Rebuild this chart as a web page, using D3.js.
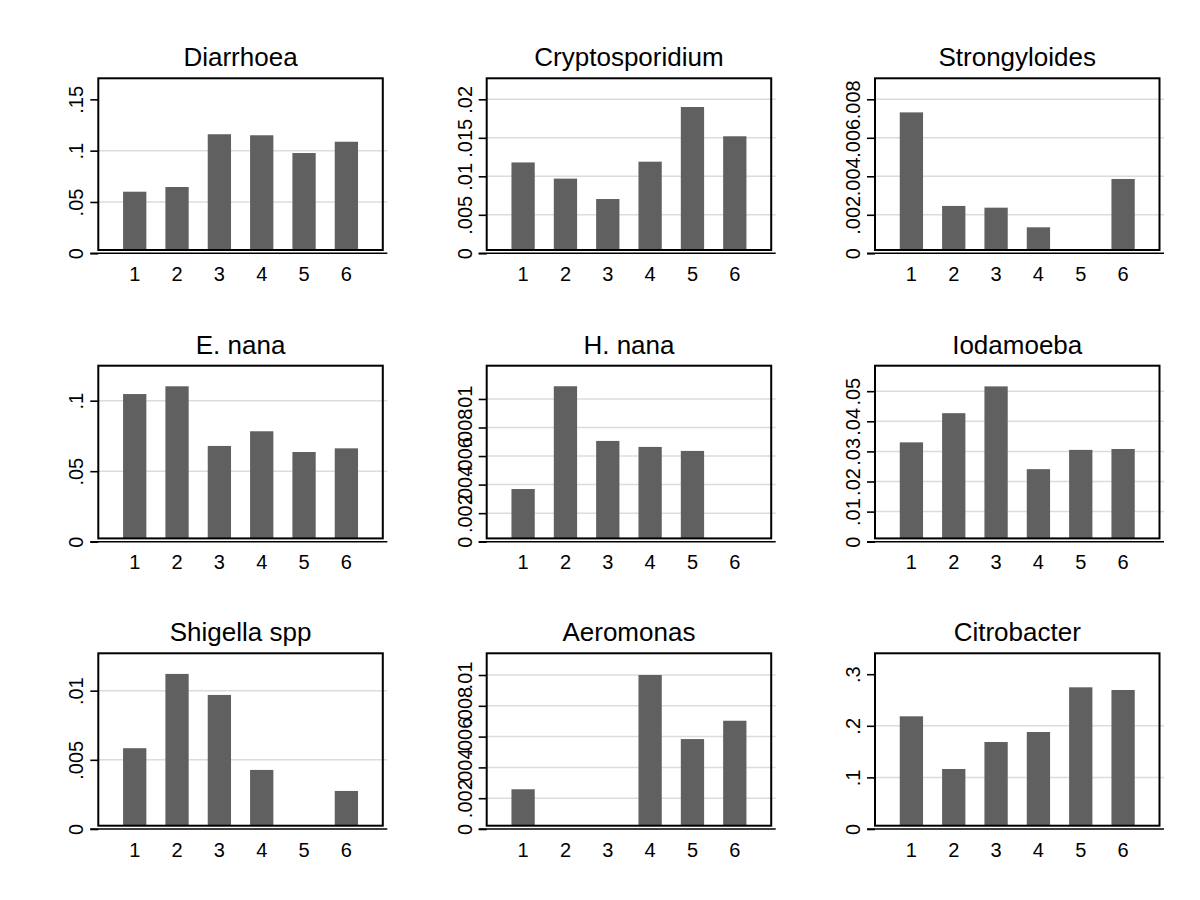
<!DOCTYPE html>
<html>
<head>
<meta charset="utf-8">
<script src="https://cdn.jsdelivr.net/npm/d3@7"></script>
<style>
  html, body { margin: 0; padding: 0; background: #fff; }
  svg { display: block; }
  text { font-family: "Liberation Sans", Arial, sans-serif; fill: #000; }
</style>
</head>
<body>
<svg id="chart" width="1200" height="900"></svg>
<script>
// ---- data ----
const categories = ["1", "2", "3", "4", "5", "6"];
const titles = ["Diarrhoea", "Cryptosporidium", "Strongyloides",
                "E. nana", "H. nana", "Iodamoeba",
                "Shigella spp", "Aeromonas", "Citrobacter"];

const diarrhoea       = [0.0600, 0.0646, 0.1160, 0.1150, 0.0977, 0.1087];
const cryptosporidium = [0.0118, 0.0097, 0.00705, 0.0119, 0.0190, 0.0152];
const strongyloides   = [0.00732, 0.00246, 0.00237, 0.00135, 0, 0.00386];
const eNana           = [0.1047, 0.1102, 0.0679, 0.0783, 0.0636, 0.0662];
const hNana           = [0.00369, 0.01089, 0.00706, 0.00664, 0.00636, 0];
const iodamoeba       = [0.0330, 0.0427, 0.0516, 0.0241, 0.0305, 0.0308];
const shigella        = [0.00584, 0.01121, 0.00969, 0.00427, 0, 0.00275];
const aeromonas       = [0.00258, 0, 0, 0.0100, 0.00584, 0.00703];
const citrobacter     = [0.2184, 0.1163, 0.1686, 0.1880, 0.2746, 0.2694];

const seriesList = [diarrhoea, cryptosporidium, strongyloides,
                    eNana, hNana, iodamoeba,
                    shigella, aeromonas, citrobacter];

// tick values and labels per panel
const tickValues = [
  [0, 0.05, 0.1, 0.15],
  [0, 0.005, 0.01, 0.015, 0.02],
  [0, 0.002, 0.004, 0.006, 0.008],
  [0, 0.05, 0.1],
  [0, 0.002, 0.004, 0.006, 0.008, 0.01],
  [0, 0.01, 0.02, 0.03, 0.04, 0.05],
  [0, 0.005, 0.01],
  [0, 0.002, 0.004, 0.006, 0.008, 0.01],
  [0, 0.1, 0.2, 0.3]
];
const tickLabels = [
  ["0", ".05", ".1", ".15"],
  ["0", ".005", ".01", ".015", ".02"],
  ["0", ".002", ".004", ".006", ".008"],
  ["0", ".05", ".1"],
  ["0", ".002", ".004", ".006", ".008", ".01"],
  ["0", ".01", ".02", ".03", ".04", ".05"],
  ["0", ".005", ".01"],
  ["0", ".002", ".004", ".006", ".008", ".01"],
  ["0", ".1", ".2", ".3"]
];
// gridline values per panel
const gridValues = [
  [0.05, 0.1],
  [0.005, 0.01, 0.015, 0.02],
  [0.002, 0.004, 0.006, 0.008],
  [0.05, 0.1],
  [0.002, 0.004, 0.006, 0.008, 0.01],
  [0.01, 0.02, 0.03, 0.04, 0.05],
  [0.005, 0.01],
  [0.002, 0.004, 0.006, 0.008, 0.01],
  [0.1, 0.2]
];
// axis maximum (value at top of plot region)
const axisMax = [0.1705, 0.02273, 0.00909, 0.1248, 0.01233, 0.05847, 0.0127, 0.01141, 0.3405];

// ---- layout ----
const colLeft = [98.3, 486.7, 875];
const boxW = 284.5;
const rowTop = [78.3, 365.7, 653.3];
const rowZero = [253.3, 541.7, 829];

const svg = d3.select("#chart");
svg.append("rect").attr("width", 1200).attr("height", 900).attr("fill", "#fff");

seriesList.forEach((values, i) => {
  const c = i % 3, r = Math.floor(i / 3);
  const x0 = colLeft[c], x1 = x0 + boxW;
  const top = rowTop[r], zero = rowZero[r];
  const frameBottom = zero - 3.3;

  const x = d3.scaleBand().domain(categories).range([x0, x1])
    .paddingInner(0.45).paddingOuter(0.585);
  const y = d3.scaleLinear().domain([0, axisMax[i]]).range([zero, top]);

  const g = svg.append("g");

  // gridlines
  g.selectAll("line.grid").data(gridValues[i]).enter().append("line")
    .attr("class", "grid")
    .attr("x1", x0).attr("x2", x1 + 4.5)
    .attr("y1", d => y(d)).attr("y2", d => y(d))
    .attr("stroke", "#dcdcdc").attr("stroke-width", 1.5);

  // bars
  g.selectAll("rect.bar").data(values.map((v, k) => ({ v, k })).filter(d => d.v > 0))
    .enter().append("rect")
    .attr("class", "bar")
    .attr("x", d => x(categories[d.k]))
    .attr("width", x.bandwidth())
    .attr("y", d => y(d.v))
    .attr("height", d => Math.max(0, frameBottom - y(d.v)))
    .attr("fill", "#606060");

  // frame
  g.append("rect")
    .attr("x", x0).attr("y", top)
    .attr("width", boxW).attr("height", frameBottom - top)
    .attr("fill", "none").attr("stroke", "#000").attr("stroke-width", 2);

  // zero axis line
  g.append("line")
    .attr("x1", x0 - 8).attr("x2", x1 + 4.5)
    .attr("y1", zero).attr("y2", zero)
    .attr("stroke", "#000").attr("stroke-width", 1.6);

  // y ticks (d3 axis, then styled)
  const yAxis = d3.axisLeft(y)
    .tickValues(tickValues[i])
    .tickFormat((d, k) => tickLabels[i][k])
    .tickSize(8).tickPadding(0);
  const ya = g.append("g").attr("transform", `translate(${x0},0)`).call(yAxis);
  ya.select(".domain").remove();
  ya.selectAll(".tick line").attr("stroke", "#000").attr("stroke-width", 1.6);
  ya.selectAll(".tick text")
    .attr("x", null).attr("dy", null)
    .attr("transform", "translate(-15,0) rotate(-90)")
    .attr("text-anchor", "middle")
    .attr("y", 0)
    .style("font-size", "20px")
    .style("font-family", "\"Liberation Sans\", Arial, sans-serif")
    .attr("fill", "#000");

  // x labels
  const xAxis = d3.axisBottom(x).tickSize(0).tickPadding(0);
  const xa = g.append("g").attr("transform", `translate(0,${zero})`).call(xAxis);
  xa.select(".domain").remove();
  xa.selectAll(".tick text")
    .attr("y", 27.5).attr("dy", null)
    .style("font-size", "20px")
    .style("font-family", "\"Liberation Sans\", Arial, sans-serif")
    .attr("fill", "#000");

  // title
  g.append("text")
    .attr("x", (x0 + x1) / 2).attr("y", top - 12)
    .attr("text-anchor", "middle")
    .style("font-size", "26px")
    .text(titles[i]);
});
</script>
</body>
</html>
